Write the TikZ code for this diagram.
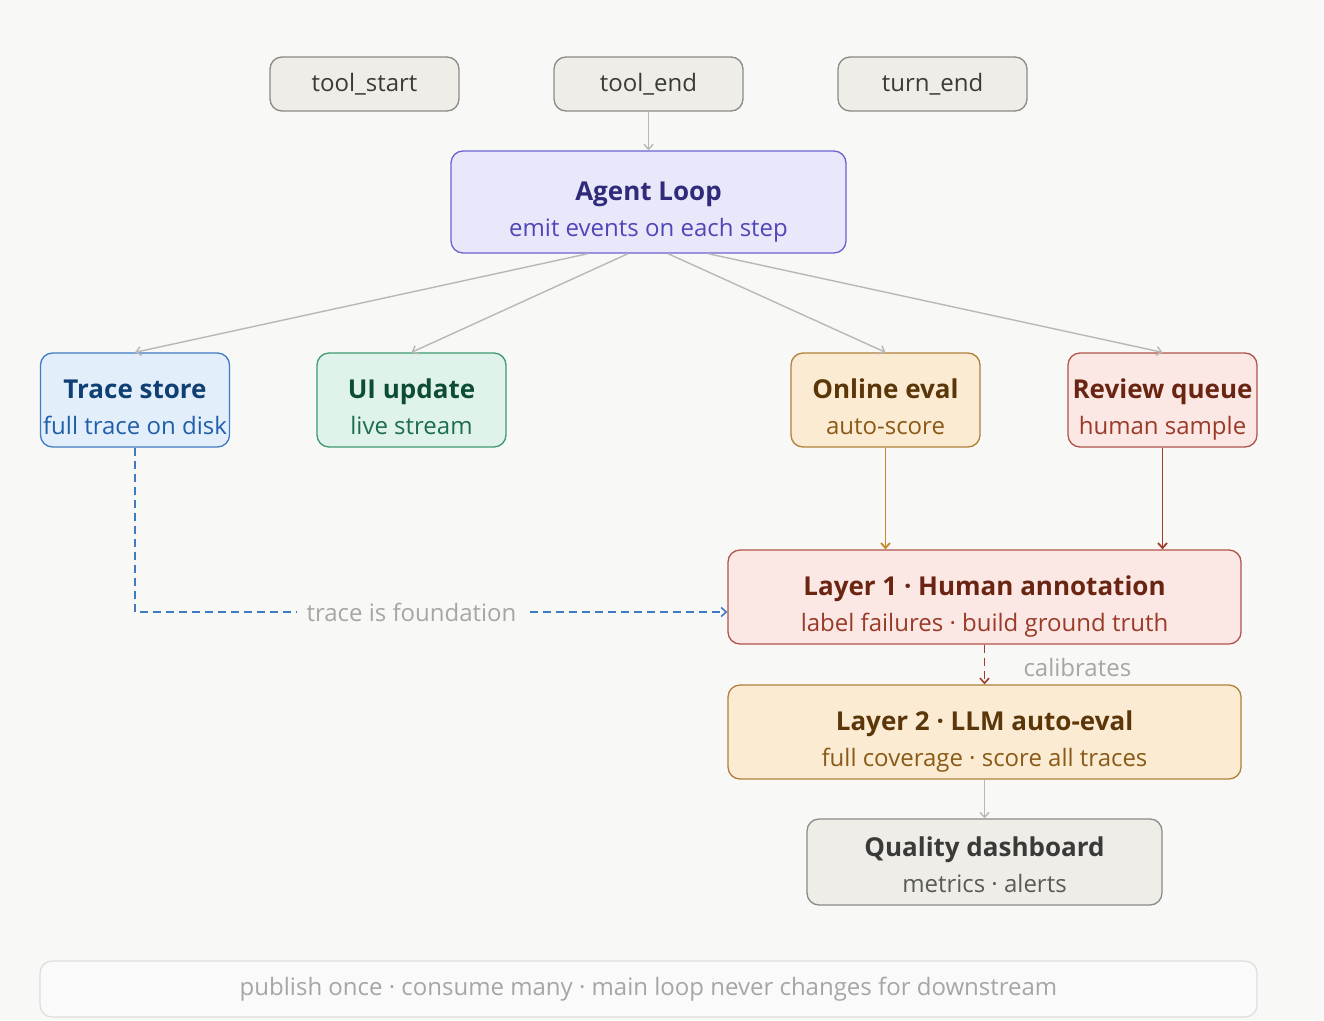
\documentclass[tikz,border=0pt]{standalone}
\usepackage{fontspec}
\setmainfont{Open Sans}
\usetikzlibrary{arrows.meta,calc}

% palette
\definecolor{bgc}{HTML}{F8F8F7}
\definecolor{grayfill}{HTML}{EFEDE8}
\definecolor{graydraw}{HTML}{8C8A85}
\definecolor{graytext}{HTML}{3A3A38}
\definecolor{graysub}{HTML}{5A5A58}
\definecolor{edgegray}{HTML}{B8B8B6}
\definecolor{labelgray}{HTML}{A6A6A4}
\definecolor{purpfill}{HTML}{E9E8FA}
\definecolor{purpdraw}{HTML}{6B62D0}
\definecolor{purptitle}{HTML}{2F2A7A}
\definecolor{purpsub}{HTML}{5046B8}
\definecolor{bluefill}{HTML}{E3EEFB}
\definecolor{bluedraw}{HTML}{3F7BC0}
\definecolor{bluetitle}{HTML}{0F3F73}
\definecolor{bluesub}{HTML}{1F5FA8}
\definecolor{greenfill}{HTML}{E0F3EA}
\definecolor{greendraw}{HTML}{3E9A6E}
\definecolor{greentitle}{HTML}{0E4D35}
\definecolor{greensub}{HTML}{1C6E4C}
\definecolor{ambfill}{HTML}{FAEBD2}
\definecolor{ambdraw}{HTML}{B0803A}
\definecolor{ambtitle}{HTML}{5A3608}
\definecolor{ambsub}{HTML}{8A5A16}
\definecolor{ambedge}{HTML}{C8862A}
\definecolor{redfill}{HTML}{FBE8E4}
\definecolor{reddraw}{HTML}{B0544A}
\definecolor{redtitle}{HTML}{6A2412}
\definecolor{redsub}{HTML}{9A3A28}
\definecolor{rededge}{HTML}{A23C2C}
\definecolor{footfill}{HTML}{FAFAFA}
\definecolor{footdraw}{HTML}{DDDDDB}

\newcommand{\ttl}{\fontsize{26}{36}\selectfont\bfseries}
\newcommand{\sbt}{\fontsize{24}{36}\selectfont}

\tikzset{
  box/.style={rounded corners=12pt, line width=1.3pt, align=center,
    inner sep=0pt, font=\fontsize{24}{36}\selectfont},
  % two-line boxes: the text box is referenced at its last baseline,
  % so fix height/depth to put the title just above the centre
  twoline/.style={text height=74pt, text depth=6pt},
  graybox/.style={box, fill=grayfill, draw=graydraw, text=graytext},
  evbox/.style={graybox, minimum width=189pt, minimum height=54pt},
  midbox/.style={box, twoline, minimum width=189pt, minimum height=94pt},
  widebox/.style={box, twoline, minimum width=513pt, minimum height=94pt},
  flow/.style={line width=1.4pt, -{Straight Barb[length=5pt,width=9pt]}},
  dsh/.style={dash pattern=on 8pt off 5pt},
  lbl/.style={text=labelgray, font=\fontsize{24}{28}\selectfont},
}

\begin{document}
\begin{tikzpicture}[x=1pt,y=-1pt]
  \fill[bgc] (0,0) rectangle (1324,1020);
  \useasboundingbox (0,0) rectangle (1324,1020);

  % event sources
  \node[evbox] (tstart) at (364.5,84) {tool\_start};
  \node[evbox] (tend) at (648.5,84) {tool\_end};
  \node[evbox] (turn) at (932.5,84) {turn\_end};

  % main loop
  \node[box, twoline, fill=purpfill, draw=purpdraw, minimum width=395pt, minimum height=102pt]
    (agent) at (648.5,202)
    {{\ttl\color{purptitle}Agent Loop}\\{\sbt\color{purpsub}emit events on each step}};

  % consumers
  \node[midbox, fill=bluefill, draw=bluedraw] (trace) at (135,400)
    {{\ttl\color{bluetitle}Trace store}\\{\sbt\color{bluesub}full trace on disk}};
  \node[midbox, fill=greenfill, draw=greendraw] (ui) at (411.5,400)
    {{\ttl\color{greentitle}UI update}\\{\sbt\color{greensub}live stream}};
  \node[midbox, fill=ambfill, draw=ambdraw] (online) at (885.5,400)
    {{\ttl\color{ambtitle}Online eval}\\{\sbt\color{ambsub}auto-score}};
  \node[midbox, fill=redfill, draw=reddraw] (review) at (1162.5,400)
    {{\ttl\color{redtitle}Review queue}\\{\sbt\color{redsub}human sample}};

  % evaluation layers
  \node[widebox, fill=redfill, draw=reddraw] (layer1) at (984.5,597)
    {{\ttl\color{redtitle}Layer 1 · Human annotation}\\{\sbt\color{redsub}label failures · build ground truth}};
  \node[widebox, fill=ambfill, draw=ambdraw] (layer2) at (984.5,732)
    {{\ttl\color{ambtitle}Layer 2 · LLM auto-eval}\\{\sbt\color{ambsub}full coverage · score all traces}};

  \node[graybox, text height=67pt, text depth=6pt, minimum width=355pt, minimum height=86pt]
    (dash) at (984.5,862)
    {{\fontsize{26}{29}\selectfont\bfseries\color{graytext}Quality dashboard}\\{\fontsize{24}{29}\selectfont\color{graysub}metrics · alerts}};

  % footer note
  \node[rounded corners=12pt, line width=1.2pt, draw=footdraw, fill=footfill,
        minimum width=1217pt, minimum height=56pt, text=labelgray,
        font=\fontsize{24}{28}\selectfont] (foot) at (648.5,989)
    {publish once · consume many · main loop never changes for downstream};

  % connectors
  \draw[flow, edgegray] (tend.south) -- (agent.north);
  \draw[flow, edgegray] ($(agent.south)+(-60.5,0)$) -- (trace.north);
  \draw[flow, edgegray] ($(agent.south)+(-20.5,0)$) -- (ui.north);
  \draw[flow, edgegray] ($(agent.south)+(19.5,0)$) -- (online.north);
  \draw[flow, edgegray] ($(agent.south)+(59.5,0)$) -- (review.north);

  \draw[flow, ambedge, line width=1.8pt] (online.south) -- (layer1.north -| online.south);
  \draw[flow, rededge, line width=1.8pt] (review.south) -- (layer1.north -| review.south);

  \coordinate (entry) at ($(layer1.west)+(0,15)$);
  \coordinate (bend) at (trace.south |- entry);
  \draw[flow, dsh, bluedraw, line width=1.6pt] (trace.south) -- (bend) -- (entry);
  \node[lbl, fill=bgc, inner xsep=10pt, inner ysep=2pt] (found) at (411.5,612) {trace is foundation};

  \draw[flow, dsh, rededge, line width=1.6pt] (layer1.south) -- (layer2.north);
  \node[lbl, anchor=west] (calib) at (1020,667) {calibrates};

  \draw[flow, edgegray] (layer2.south) -- (dash.north);
\end{tikzpicture}
\end{document}
